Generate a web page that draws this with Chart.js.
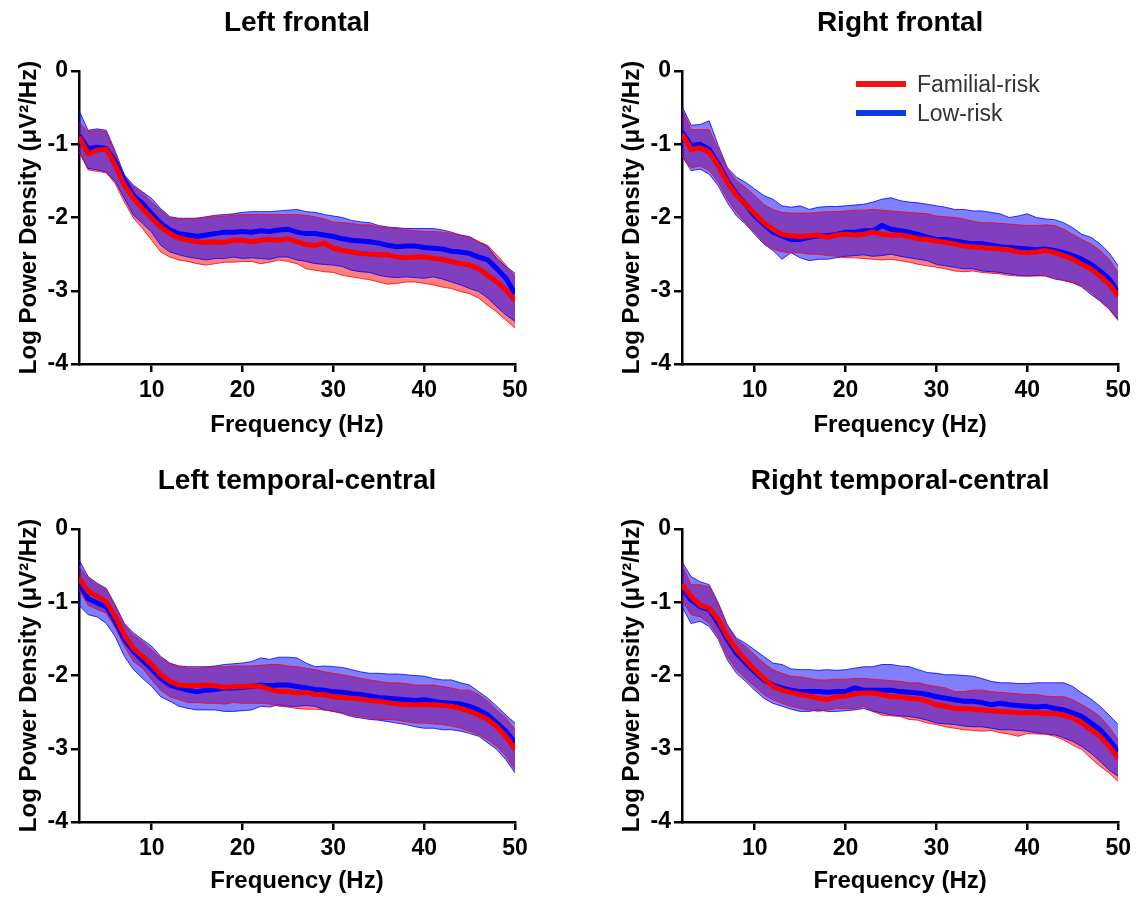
<!DOCTYPE html>
<html>
<head>
<meta charset="utf-8">
<script src="https://cdn.jsdelivr.net/npm/chart.js"></script>
<style>
  body { margin: 0; background: #fff; width: 1136px; height: 897px; position: relative; overflow: hidden; }
  canvas { position: absolute; }
</style>
</head>
<body>
<canvas id="lf" style="left:0;top:0" width="568" height="450"></canvas>
<canvas id="rf" style="left:568px;top:0" width="568" height="450"></canvas>
<canvas id="ltc" style="left:0;top:450px" width="568" height="447"></canvas>
<canvas id="rtc" style="left:568px;top:450px" width="568" height="447"></canvas>
<script>
// frequency bins (Hz)
const freqHz = [2,3,4,5,6,7,8,9,10,11,12,13,14,15,16,17,18,19,20,21,22,23,24,25,26,
  27,28,29,30,31,32,33,34,35,36,37,38,39,40,41,42,43,44,45,46,47,48,49,50];
const xTicks = [10, 20, 30, 40, 50];
const yTicks = [0, -1, -2, -3, -4];

// Left frontal
const lfFamMean = [-0.90,-1.13,-1.08,-1.07,-1.29,-1.56,-1.74,-1.88,-2.01,-2.13,-2.22,-2.28,-2.31,-2.33,-2.34,-2.33,-2.34,-2.31,-2.31,-2.33,-2.31,-2.30,-2.31,-2.29,-2.33,-2.37,-2.38,-2.35,-2.42,-2.45,-2.47,-2.49,-2.50,-2.51,-2.51,-2.54,-2.55,-2.54,-2.54,-2.56,-2.57,-2.60,-2.63,-2.65,-2.70,-2.79,-2.88,-2.99,-3.14];
const lfFamHi = [-0.70,-0.83,-0.81,-0.83,-1.13,-1.45,-1.58,-1.67,-1.79,-1.90,-2.01,-2.02,-2.02,-2.01,-2.00,-1.99,-1.98,-1.97,-1.96,-1.96,-1.96,-1.96,-1.96,-1.96,-1.96,-1.97,-1.99,-2.02,-2.06,-2.07,-2.08,-2.10,-2.10,-2.13,-2.14,-2.15,-2.17,-2.18,-2.19,-2.19,-2.20,-2.22,-2.24,-2.28,-2.33,-2.38,-2.51,-2.65,-2.81];
const lfFamLo = [-1.10,-1.35,-1.37,-1.39,-1.54,-1.79,-2.01,-2.15,-2.31,-2.47,-2.54,-2.58,-2.60,-2.63,-2.65,-2.63,-2.61,-2.61,-2.60,-2.60,-2.63,-2.61,-2.58,-2.60,-2.63,-2.70,-2.72,-2.74,-2.75,-2.79,-2.81,-2.83,-2.85,-2.88,-2.91,-2.90,-2.88,-2.88,-2.90,-2.92,-2.95,-2.97,-3.01,-3.04,-3.10,-3.20,-3.29,-3.40,-3.51];
const lfLowMean = [-0.88,-1.06,-1.04,-1.06,-1.24,-1.49,-1.70,-1.81,-1.95,-2.08,-2.17,-2.22,-2.24,-2.26,-2.24,-2.22,-2.20,-2.20,-2.19,-2.20,-2.18,-2.19,-2.17,-2.16,-2.20,-2.22,-2.22,-2.24,-2.26,-2.29,-2.31,-2.32,-2.33,-2.35,-2.38,-2.40,-2.39,-2.39,-2.41,-2.42,-2.43,-2.46,-2.47,-2.49,-2.54,-2.58,-2.70,-2.83,-3.04];
const lfLowHi = [-0.54,-0.81,-0.79,-0.81,-1.10,-1.42,-1.56,-1.65,-1.74,-1.88,-1.99,-2.01,-2.01,-2.01,-1.99,-1.97,-1.96,-1.95,-1.93,-1.92,-1.92,-1.92,-1.91,-1.90,-1.89,-1.92,-1.93,-1.96,-1.98,-2.00,-2.04,-2.06,-2.07,-2.11,-2.13,-2.14,-2.15,-2.15,-2.15,-2.15,-2.17,-2.20,-2.24,-2.26,-2.33,-2.40,-2.56,-2.67,-2.76];
const lfLowLo = [-1.11,-1.33,-1.35,-1.38,-1.51,-1.74,-1.97,-2.08,-2.20,-2.38,-2.47,-2.51,-2.54,-2.56,-2.58,-2.56,-2.56,-2.54,-2.56,-2.55,-2.56,-2.57,-2.54,-2.54,-2.58,-2.60,-2.63,-2.64,-2.65,-2.67,-2.72,-2.74,-2.75,-2.79,-2.81,-2.82,-2.81,-2.82,-2.83,-2.81,-2.84,-2.88,-2.92,-2.97,-3.01,-3.10,-3.22,-3.33,-3.42];

// Right frontal
const rfFamMean = [-0.86,-1.07,-1.05,-1.11,-1.30,-1.52,-1.70,-1.82,-1.95,-2.07,-2.16,-2.23,-2.25,-2.26,-2.25,-2.24,-2.27,-2.24,-2.23,-2.24,-2.23,-2.20,-2.23,-2.24,-2.24,-2.26,-2.29,-2.30,-2.32,-2.34,-2.36,-2.39,-2.40,-2.41,-2.42,-2.43,-2.44,-2.47,-2.48,-2.47,-2.45,-2.48,-2.52,-2.57,-2.64,-2.70,-2.80,-2.91,-3.07];
const rfFamHi = [-0.52,-0.80,-0.80,-0.80,-1.07,-1.34,-1.50,-1.59,-1.70,-1.82,-1.89,-1.93,-1.94,-1.94,-1.94,-1.93,-1.92,-1.92,-1.91,-1.90,-1.90,-1.89,-1.90,-1.91,-1.92,-1.93,-1.94,-1.95,-1.98,-1.99,-2.00,-2.02,-2.05,-2.07,-2.07,-2.08,-2.09,-2.10,-2.11,-2.11,-2.10,-2.11,-2.16,-2.23,-2.30,-2.36,-2.45,-2.57,-2.75];
const rfFamLo = [-1.16,-1.32,-1.30,-1.36,-1.52,-1.75,-1.93,-2.07,-2.20,-2.34,-2.43,-2.47,-2.48,-2.48,-2.50,-2.50,-2.52,-2.53,-2.55,-2.55,-2.56,-2.57,-2.58,-2.57,-2.59,-2.61,-2.64,-2.66,-2.68,-2.70,-2.73,-2.74,-2.73,-2.75,-2.76,-2.77,-2.79,-2.80,-2.80,-2.80,-2.79,-2.82,-2.86,-2.89,-2.93,-3.02,-3.14,-3.25,-3.41];
const rfLowMean = [-0.83,-1.02,-1.00,-1.07,-1.27,-1.50,-1.68,-1.82,-1.98,-2.09,-2.20,-2.25,-2.30,-2.30,-2.27,-2.25,-2.25,-2.23,-2.20,-2.20,-2.18,-2.18,-2.11,-2.16,-2.18,-2.20,-2.23,-2.27,-2.30,-2.30,-2.32,-2.34,-2.36,-2.36,-2.38,-2.40,-2.41,-2.42,-2.43,-2.44,-2.43,-2.45,-2.48,-2.52,-2.57,-2.64,-2.73,-2.84,-3.02];
const rfLowHi = [-0.48,-0.74,-0.73,-0.68,-1.02,-1.32,-1.45,-1.52,-1.61,-1.70,-1.75,-1.84,-1.86,-1.84,-1.89,-1.86,-1.85,-1.85,-1.84,-1.83,-1.82,-1.79,-1.75,-1.73,-1.77,-1.79,-1.80,-1.82,-1.84,-1.86,-1.89,-1.89,-1.91,-1.91,-1.93,-1.95,-2.00,-1.98,-1.95,-2.00,-2.02,-2.03,-2.07,-2.14,-2.23,-2.27,-2.36,-2.48,-2.66];
const rfLowLo = [-1.16,-1.36,-1.34,-1.41,-1.57,-1.80,-1.98,-2.09,-2.23,-2.36,-2.45,-2.57,-2.48,-2.55,-2.59,-2.57,-2.57,-2.55,-2.53,-2.52,-2.51,-2.53,-2.52,-2.50,-2.53,-2.55,-2.57,-2.59,-2.64,-2.66,-2.68,-2.70,-2.70,-2.73,-2.74,-2.75,-2.77,-2.79,-2.80,-2.79,-2.80,-2.84,-2.86,-2.89,-2.95,-3.05,-3.14,-3.25,-3.39];

// Left temporal-central
const ltcFamMean = [-0.67,-0.85,-0.92,-0.99,-1.20,-1.45,-1.63,-1.74,-1.85,-1.99,-2.08,-2.13,-2.14,-2.14,-2.13,-2.14,-2.16,-2.15,-2.15,-2.14,-2.15,-2.19,-2.22,-2.22,-2.24,-2.23,-2.26,-2.26,-2.29,-2.30,-2.31,-2.32,-2.34,-2.35,-2.37,-2.39,-2.40,-2.40,-2.40,-2.40,-2.41,-2.42,-2.45,-2.49,-2.54,-2.60,-2.70,-2.83,-3.01];
const ltcFamHi = [-0.51,-0.67,-0.76,-0.83,-1.06,-1.31,-1.45,-1.54,-1.65,-1.76,-1.84,-1.88,-1.90,-1.90,-1.89,-1.88,-1.88,-1.87,-1.87,-1.87,-1.86,-1.85,-1.85,-1.87,-1.88,-1.90,-1.92,-1.95,-1.97,-1.99,-2.01,-2.04,-2.06,-2.08,-2.10,-2.10,-2.11,-2.13,-2.13,-2.13,-2.15,-2.17,-2.20,-2.20,-2.26,-2.35,-2.47,-2.58,-2.74];
const ltcFamLo = [-0.83,-1.04,-1.10,-1.15,-1.35,-1.60,-1.81,-1.90,-2.06,-2.20,-2.29,-2.33,-2.37,-2.37,-2.38,-2.38,-2.39,-2.37,-2.38,-2.38,-2.38,-2.39,-2.42,-2.43,-2.45,-2.46,-2.46,-2.47,-2.49,-2.51,-2.54,-2.56,-2.58,-2.60,-2.60,-2.61,-2.63,-2.65,-2.65,-2.66,-2.67,-2.69,-2.72,-2.76,-2.81,-2.88,-2.97,-3.10,-3.29];
const ltcLowMean = [-0.74,-0.95,-1.01,-1.06,-1.26,-1.51,-1.67,-1.79,-1.91,-2.04,-2.13,-2.17,-2.20,-2.22,-2.20,-2.19,-2.17,-2.17,-2.16,-2.15,-2.13,-2.14,-2.13,-2.13,-2.15,-2.17,-2.19,-2.20,-2.22,-2.23,-2.25,-2.26,-2.28,-2.30,-2.31,-2.32,-2.33,-2.34,-2.33,-2.35,-2.37,-2.38,-2.39,-2.42,-2.47,-2.54,-2.65,-2.76,-2.92];
const ltcLowHi = [-0.42,-0.65,-0.74,-0.81,-1.04,-1.29,-1.42,-1.51,-1.60,-1.74,-1.83,-1.87,-1.88,-1.88,-1.88,-1.87,-1.85,-1.84,-1.83,-1.81,-1.76,-1.78,-1.75,-1.75,-1.76,-1.83,-1.88,-1.87,-1.88,-1.89,-1.92,-1.95,-1.97,-1.97,-1.98,-1.98,-1.99,-2.00,-2.01,-2.04,-2.06,-2.06,-2.10,-2.13,-2.22,-2.31,-2.42,-2.54,-2.65];
const ltcLowLo = [-1.04,-1.17,-1.20,-1.29,-1.47,-1.74,-1.92,-2.04,-2.15,-2.29,-2.35,-2.42,-2.45,-2.47,-2.47,-2.47,-2.49,-2.49,-2.48,-2.47,-2.42,-2.43,-2.40,-2.42,-2.42,-2.41,-2.42,-2.47,-2.49,-2.52,-2.56,-2.58,-2.60,-2.61,-2.63,-2.65,-2.67,-2.70,-2.72,-2.72,-2.74,-2.74,-2.76,-2.79,-2.83,-2.92,-3.01,-3.15,-3.33];

// Right temporal-central
const rtcFamMean = [-0.76,-0.92,-1.04,-1.08,-1.24,-1.47,-1.65,-1.79,-1.92,-2.04,-2.15,-2.20,-2.23,-2.26,-2.28,-2.31,-2.33,-2.29,-2.28,-2.25,-2.24,-2.24,-2.26,-2.29,-2.29,-2.31,-2.32,-2.35,-2.40,-2.42,-2.45,-2.45,-2.46,-2.47,-2.48,-2.49,-2.50,-2.51,-2.51,-2.51,-2.52,-2.52,-2.54,-2.58,-2.65,-2.74,-2.83,-2.97,-3.13];
const rtcFamHi = [-0.49,-0.76,-0.76,-0.79,-1.04,-1.33,-1.51,-1.60,-1.72,-1.83,-1.92,-1.97,-2.01,-2.02,-2.04,-2.06,-2.06,-2.05,-2.05,-2.04,-2.04,-2.05,-2.06,-2.07,-2.08,-2.10,-2.10,-2.13,-2.15,-2.17,-2.22,-2.22,-2.20,-2.20,-2.22,-2.23,-2.24,-2.25,-2.26,-2.26,-2.28,-2.29,-2.29,-2.33,-2.40,-2.47,-2.56,-2.70,-2.88];
const rtcFamLo = [-0.97,-1.17,-1.20,-1.29,-1.47,-1.74,-1.92,-2.04,-2.15,-2.26,-2.33,-2.38,-2.42,-2.45,-2.47,-2.49,-2.47,-2.45,-2.45,-2.45,-2.42,-2.49,-2.54,-2.55,-2.56,-2.60,-2.61,-2.65,-2.67,-2.70,-2.72,-2.74,-2.75,-2.76,-2.75,-2.78,-2.80,-2.83,-2.79,-2.80,-2.80,-2.83,-2.88,-2.95,-3.01,-3.13,-3.24,-3.33,-3.45];
const rtcLowMean = [-0.81,-0.97,-1.06,-1.10,-1.29,-1.51,-1.70,-1.83,-1.95,-2.06,-2.13,-2.17,-2.20,-2.22,-2.22,-2.22,-2.23,-2.22,-2.22,-2.17,-2.20,-2.20,-2.20,-2.20,-2.22,-2.23,-2.24,-2.26,-2.29,-2.31,-2.33,-2.35,-2.35,-2.37,-2.40,-2.38,-2.40,-2.41,-2.42,-2.43,-2.42,-2.45,-2.47,-2.51,-2.56,-2.65,-2.74,-2.88,-3.04];
const rtcLowHi = [-0.45,-0.65,-0.72,-0.76,-1.01,-1.31,-1.49,-1.56,-1.65,-1.74,-1.83,-1.85,-1.91,-1.92,-1.92,-1.93,-1.92,-1.93,-1.92,-1.90,-1.88,-1.88,-1.85,-1.85,-1.87,-1.88,-1.92,-1.96,-1.97,-1.99,-1.99,-2.00,-2.01,-2.04,-2.08,-2.10,-2.10,-2.11,-2.11,-2.10,-2.10,-2.10,-2.10,-2.15,-2.24,-2.32,-2.42,-2.54,-2.67];
const rtcLowLo = [-1.06,-1.29,-1.26,-1.33,-1.51,-1.79,-1.97,-2.08,-2.20,-2.31,-2.38,-2.42,-2.46,-2.49,-2.49,-2.47,-2.49,-2.49,-2.48,-2.47,-2.45,-2.49,-2.51,-2.54,-2.55,-2.56,-2.58,-2.61,-2.65,-2.66,-2.67,-2.69,-2.70,-2.70,-2.72,-2.74,-2.74,-2.75,-2.76,-2.78,-2.80,-2.81,-2.85,-2.90,-2.97,-3.06,-3.17,-3.29,-3.38];

const FONT = '"Liberation Sans", Arial, sans-serif';
const RED = '#ff0000', BLUE = '#0000ff';

function pts(arr) {
  return freqHz.map((f, i) => ({ x: f, y: arr[i] }));
}

// draws the panel heading centred over the plot area
const panelTitle = {
  id: 'panelTitle',
  afterDraw(chart, args, opts) {
    const { ctx, chartArea } = chart;
    ctx.save();
    ctx.font = 'bold 28px ' + FONT;
    ctx.fillStyle = '#000';
    ctx.textAlign = 'center';
    ctx.textBaseline = 'middle';
    ctx.fillText(opts.text, (chartArea.left + chartArea.right) / 2, chartArea.top - 48);
    ctx.restore();
  }
};

// simple line legend inside the plot (only on one panel)
const lineLegend = {
  id: 'lineLegend',
  afterDraw(chart, args, opts) {
    if (!opts.items) return;
    const { ctx, chartArea } = chart;
    ctx.save();
    opts.items.forEach((it, i) => {
      const y = chartArea.top + opts.y + i * opts.gap;
      ctx.strokeStyle = it.color;
      ctx.lineWidth = 6;
      ctx.beginPath();
      ctx.moveTo(chartArea.left + opts.x, y);
      ctx.lineTo(chartArea.left + opts.x + 50, y);
      ctx.stroke();
      ctx.font = '23px ' + FONT;
      ctx.fillStyle = '#333';
      ctx.textBaseline = 'middle';
      ctx.fillText(it.label, chartArea.left + opts.x + 61, y + 2);
    });
    ctx.restore();
  }
};

function makePanel(id, title, fam, famHi, famLo, low, lowHi, lowLo, pad, xHeight, legend) {
  const band = (data, color, fill, order) => ({
    data: pts(data), borderWidth: 0, pointRadius: 0, backgroundColor: color,
    fill: fill, order: order
  });
  const edge = (data, color, order) => ({
    data: pts(data), borderColor: color, borderWidth: 1, pointRadius: 0, fill: false, order: order
  });
  const mean = (data, color, order) => ({
    data: pts(data), borderColor: color, borderWidth: 5, pointRadius: 0, fill: false, order: order
  });
  new Chart(document.getElementById(id), {
    type: 'line',
    data: {
      datasets: [
        band(famHi, 'rgba(255,0,0,0.5)', false, 20),
        band(famLo, 'rgba(255,0,0,0.5)', '-1', 19),
        band(lowHi, 'rgba(0,0,255,0.5)', false, 18),
        band(lowLo, 'rgba(0,0,255,0.5)', '-1', 17),
        edge(lowHi, 'rgba(0,0,255,0.8)', 16),
        edge(lowLo, 'rgba(0,0,255,0.8)', 15),
        edge(famHi, 'rgba(255,0,0,0.8)', 14),
        edge(famLo, 'rgba(255,0,0,0.8)', 13),
        mean(low, BLUE, 2),
        mean(fam, RED, 1)
      ]
    },
    options: {
      responsive: false,
      animation: false,
      devicePixelRatio: 1,
      layout: { padding: pad },
      plugins: {
        legend: { display: false },
        tooltip: { enabled: false },
        panelTitle: { text: title },
        lineLegend: legend || {}
      },
      scales: {
        x: {
          type: 'linear', min: 2, max: 50,
          afterBuildTicks: s => { s.ticks = xTicks.map(v => ({ value: v })); },
          afterFit: s => { s.height = xHeight; },
          grid: { drawOnChartArea: false, drawTicks: true, tickLength: 8, color: '#000', lineWidth: 2.5 },
          border: { display: true, color: '#000', width: 2.5 },
          ticks: { color: '#000', font: { family: FONT, size: 23, weight: 'bold' }, padding: 5, maxRotation: 0 },
          title: { display: true, text: 'Frequency (Hz)', color: '#000',
                   font: { family: FONT, size: 24, weight: 'bold' }, padding: { top: 0, bottom: 0 } }
        },
        y: {
          min: -4, max: 0,
          afterBuildTicks: s => { s.ticks = yTicks.map(v => ({ value: v })); },
          afterFit: s => { s.width = 68; },
          grid: { drawOnChartArea: false, drawTicks: true, tickLength: 8, color: '#000', lineWidth: 2.5 },
          border: { display: true, color: '#000', width: 2.5 },
          ticks: { color: '#000', font: { family: FONT, size: 23, weight: 'bold' }, padding: 3 },
          title: { display: true, text: 'Log Power Density (\u03BCV\u00B2/Hz)', color: '#000',
                   font: { family: FONT, size: 24, weight: 'bold' }, padding: { top: 4, bottom: 0 } }
        }
      }
    },
    plugins: [panelTitle, lineLegend]
  });
}

makePanel('lf', 'Left frontal', lfFamMean, lfFamHi, lfFamLo, lfLowMean, lfLowHi, lfLowLo,
  { left: 11, top: 71, right: 53, bottom: 10 }, 76);
makePanel('rf', 'Right frontal', rfFamMean, rfFamHi, rfFamLo, rfLowMean, rfLowHi, rfLowLo,
  { left: 46, top: 71, right: 17, bottom: 10 }, 76,
  { x: 174, y: 13, gap: 29, items: [{ label: 'Familial-risk', color: '#f01414' }, { label: 'Low-risk', color: '#0a3ce0' }] });
makePanel('ltc', 'Left temporal-central', ltcFamMean, ltcFamHi, ltcFamLo, ltcLowMean, ltcLowHi, ltcLowLo,
  { left: 11, top: 79, right: 53, bottom: 1 }, 74);
makePanel('rtc', 'Right temporal-central', rtcFamMean, rtcFamHi, rtcFamLo, rtcLowMean, rtcLowHi, rtcLowLo,
  { left: 46, top: 79, right: 17, bottom: 1 }, 74);
</script>
</body>
</html>
